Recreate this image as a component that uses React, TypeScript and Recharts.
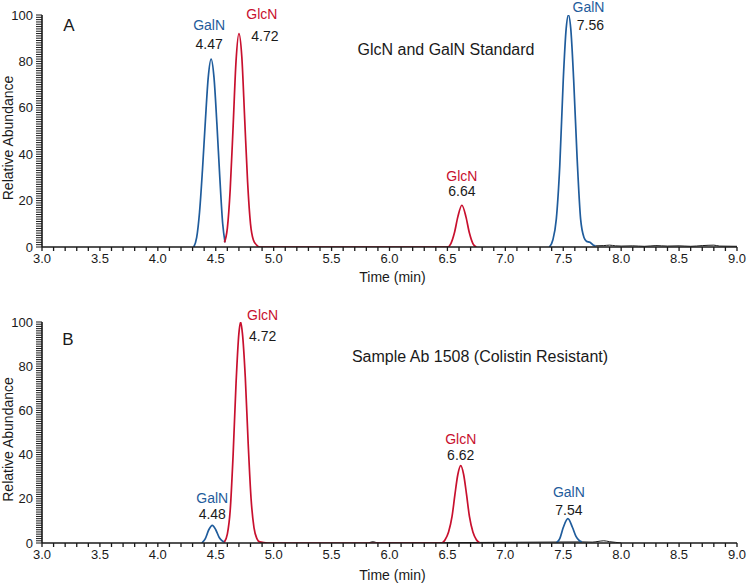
import React from 'react';
import { LineChart, Line, XAxis, YAxis, ReferenceDot } from 'recharts';

const BLUE = '#1f5c9c';
const RED = '#c8102e';
const INK = '#1a1a1a';
const FONT = '"Liberation Sans", Arial, sans-serif';

// traces: [retention time (min), relative abundance (%)]
const galnA: [number, number][] = [
  [4.31, 0], [4.335, 4], [4.36, 15], [4.385, 33], [4.41, 54], [4.435, 73], [4.46, 81],
  [4.485, 73], [4.51, 53], [4.535, 30], [4.56, 10], [4.58, 2],
];
const glcnA: [number, number][] = [
  [4.575, 2], [4.6, 8], [4.625, 25], [4.65, 52], [4.675, 80], [4.7, 92], [4.725, 82],
  [4.75, 55], [4.775, 28], [4.8, 10], [4.825, 3], [4.85, 1], [4.88, 0],
  [6.5, 0], [6.53, 1.5], [6.56, 6], [6.59, 13], [6.625, 18], [6.66, 13], [6.69, 6], [6.72, 1.5], [6.75, 0],
];
const galnA2: [number, number][] = [
  [7.38, 0], [7.41, 3], [7.44, 12], [7.47, 35], [7.5, 72], [7.525, 94], [7.545, 100],
  [7.565, 94], [7.59, 72], [7.62, 38], [7.65, 12], [7.68, 4], [7.7, 2.5], [7.73, 2], [7.76, 0.8], [7.78, 0.5],
];
const noiseA: [number, number][] = [
  [7.78, 0.5], [7.85, 0.6], [7.9, 0.8], [7.95, 0.5], [8.0, 0.4], [8.1, 0.5], [8.2, 0.3], [8.3, 0.6],
  [8.4, 0.4], [8.5, 0.5], [8.6, 0.3], [8.7, 0.6], [8.8, 0.8], [8.85, 0.4], [9.0, 0.3],
];

const galnB: [number, number][] = [
  [4.38, 0], [4.41, 2], [4.44, 6], [4.47, 8], [4.5, 6], [4.53, 2.5], [4.56, 0.8], [4.58, 0.5],
];
const glcnB: [number, number][] = [
  [4.575, 0.5], [4.6, 4], [4.625, 15], [4.65, 40], [4.675, 72], [4.7, 95], [4.715, 100], [4.73, 95],
  [4.755, 75], [4.78, 45], [4.805, 20], [4.83, 7], [4.855, 2], [4.88, 0.5], [4.95, 0],
  [6.45, 0], [6.48, 1.5], [6.51, 5], [6.54, 12], [6.565, 22], [6.59, 31], [6.615, 35], [6.64, 31],
  [6.665, 22], [6.69, 12], [6.72, 5], [6.75, 1.5], [6.78, 0],
];
const galnB2: [number, number][] = [
  [7.44, 0], [7.47, 2], [7.5, 7], [7.54, 11], [7.58, 7], [7.61, 3], [7.64, 1], [7.66, 0.5],
];
const noiseB: [number, number][] = [
  [5.82, 0], [5.86, 0.6], [5.9, 0], [7.66, 0.5], [7.75, 0.4], [7.8, 0.7], [7.85, 1], [7.9, 0.6], [7.95, 0.3], [8.0, 0],
];

// peak annotations
const peaksA = [
  { name: 'GalN', rt: '4.47', t: 4.46, h: 81, color: BLUE },
  { name: 'GlcN', rt: '4.72', t: 4.7, h: 92, color: RED },
  { name: 'GlcN', rt: '6.64', t: 6.625, h: 18, color: RED },
  { name: 'GalN', rt: '7.56', t: 7.545, h: 100, color: BLUE },
];
const peaksB = [
  { name: 'GalN', rt: '4.48', t: 4.47, h: 8, color: BLUE },
  { name: 'GlcN', rt: '4.72', t: 4.715, h: 100, color: RED },
  { name: 'GlcN', rt: '6.62', t: 6.615, h: 35, color: RED },
  { name: 'GalN', rt: '7.54', t: 7.54, h: 11, color: BLUE },
];
// label offsets from the apex in px: [name dx, name dy, rt dx, rt dy]
const offsetsA = [[-2, -34, -2, -15], [23, -20, 26, 2], [0, -29, 0, -14], [20, -8, 22, 10]];
const offsetsB = [[0, -27, 0, -11], [22, -7, 22, 14], [0, -27, 0, -11], [1, -27, 1, -9]];

const yTickValues = Array.from({ length: 101 }, (_, i) => i);
const yLabels = [0, 20, 40, 60, 80, 100];
const xTickValues = Array.from({ length: 61 }, (_, i) => Math.round(30 + i) / 10);
const xLabels = ['3.0', '3.5', '4.0', '4.5', '5.0', '5.5', '6.0', '6.5', '7.0', '7.5', '8.0', '8.5', '9.0'];

const toRows = (pts: [number, number][]) => pts.map(([t, v]) => ({ t, v }));

const YTick = (props: any) => {
  const { x, y, payload } = props;
  const v = Number(payload.value);
  if (!yLabels.includes(v)) return <g />;
  return (
    <text x={Number(x) - 3} y={Number(y)} textAnchor="end" dominantBaseline="central" fontSize={13} fontFamily={FONT} fill={INK}>
      {v}
    </text>
  );
};

const XTick = (props: any) => {
  const { x, y, payload } = props;
  const label = Number(payload.value).toFixed(1);
  if (!xLabels.includes(label)) return <g />;
  return (
    <text x={Number(x)} y={Number(y) + 6} textAnchor="middle" dominantBaseline="central" fontSize={13} fontFamily={FONT} fill={INK}>
      {label}
    </text>
  );
};

function Panel({ height, top, traces, peaks, offsets, titleGap }: any) {
  return (
    <LineChart width={750} height={height} margin={{ top, right: 13, bottom: 0, left: 0 }}>
      <XAxis
        type="number"
        dataKey="t"
        domain={[3, 9]}
        ticks={xTickValues}
        interval={0}
        tickSize={4}
        tickMargin={1}
        tickLine={{ stroke: INK, strokeWidth: 1.3 }}
        tick={<XTick />}
        height={height - top - 232 + (top === 15 ? 0 : 11)}
        axisLine={{ stroke: INK, strokeWidth: 1.6 }}
        allowDataOverflow
        label={{
          content: (p: any) => {
            const vb = p.viewBox;
            return (
              <text x={vb.x + vb.width / 2 + 3} y={vb.y + titleGap} textAnchor="middle" dominantBaseline="central" fontSize={14} fontFamily={FONT} fill={INK}>
                Time (min)
              </text>
            );
          },
        }}
      />
      <YAxis
        type="number"
        domain={[0, 100]}
        ticks={yTickValues}
        interval={0}
        width={42}
        tickSize={6}
        tickMargin={0}
        tickLine={{ stroke: INK, strokeWidth: 1 }}
        tick={<YTick />}
        axisLine={{ stroke: INK, strokeWidth: 1.6 }}
        allowDataOverflow
        label={{
          content: (p: any) => {
            const vb = p.viewBox;
            const cy = vb.y + vb.height / 2 + 7;
            return (
              <text
                x={8}
                y={cy}
                transform={`rotate(-90 8 ${cy})`}
                textAnchor="middle"
                dominantBaseline="central"
                fontSize={14}
                fontFamily={FONT}
                fill={INK}
              >
                Relative Abundance
              </text>
            );
          },
        }}
      />
      {traces.map((tr: any, i: number) => (
        <Line
          key={i}
          data={toRows(tr.pts)}
          dataKey="v"
          type="monotone"
          stroke={tr.color}
          strokeWidth={tr.w}
          dot={false}
          activeDot={false}
          isAnimationActive={false}
        />
      ))}
      {peaks.map((p: any, i: number) => {
        const [ndx, ndy, rdx, rdy] = offsets[i];
        return (
          <ReferenceDot
            key={i}
            x={p.t}
            y={p.h}
            r={0}
            fill="none"
            stroke="none"
            label={(lp: any) => {
              const vb = lp.viewBox;
              const cx = vb.x + (vb.width || 0) / 2;
              const cy = vb.y + (vb.height || 0) / 2;
              return (
                <g fontFamily={FONT} fontSize={14} textAnchor="middle">
                  <text x={cx + ndx} y={cy + ndy} dominantBaseline="central" fill={p.color}>{p.name}</text>
                  <text x={cx + rdx} y={cy + rdy} dominantBaseline="central" fill={INK}>{p.rt}</text>
                </g>
              );
            }}
          />
        );
      })}
    </LineChart>
  );
}

const textStyle: React.CSSProperties = {
  position: 'absolute',
  fontFamily: FONT,
  color: INK,
  whiteSpace: 'nowrap',
  transform: 'translate(-50%, -50%)',
  lineHeight: 1,
};

export default function App() {
  const tracesA = [
    { pts: noiseA, color: INK, w: 1 },
    { pts: galnA, color: BLUE, w: 1.7 },
    { pts: glcnA, color: RED, w: 1.7 },
    { pts: galnA2, color: BLUE, w: 1.7 },
  ];
  const tracesB = [
    { pts: noiseB, color: INK, w: 1 },
    { pts: galnB, color: BLUE, w: 1.7 },
    { pts: glcnB, color: RED, w: 1.7 },
    { pts: galnB2, color: BLUE, w: 1.7 },
  ];
  return (
    <div style={{ position: 'absolute', left: 0, top: 0, width: 750, height: 584, background: '#fff' }}>
      <div style={{ position: 'absolute', left: 0, top: 0 }}>
        <Panel height={290} top={15} traces={tracesA} peaks={peaksA} offsets={offsetsA} titleGap={30} />
      </div>
      <div style={{ position: 'absolute', left: 0, top: 290 }}>
        <Panel height={294} top={32} traces={tracesB} peaks={peaksB} offsets={offsetsB} titleGap={32} />
      </div>
      <div style={{ ...textStyle, left: 69, top: 25, fontSize: 17 }}>A</div>
      <div style={{ ...textStyle, left: 446, top: 50, fontSize: 16 }}>GlcN and GalN Standard</div>
      <div style={{ ...textStyle, left: 68, top: 339, fontSize: 17 }}>B</div>
      <div style={{ ...textStyle, left: 480, top: 357, fontSize: 16 }}>Sample Ab 1508 (Colistin Resistant)</div>
    </div>
  );
}
